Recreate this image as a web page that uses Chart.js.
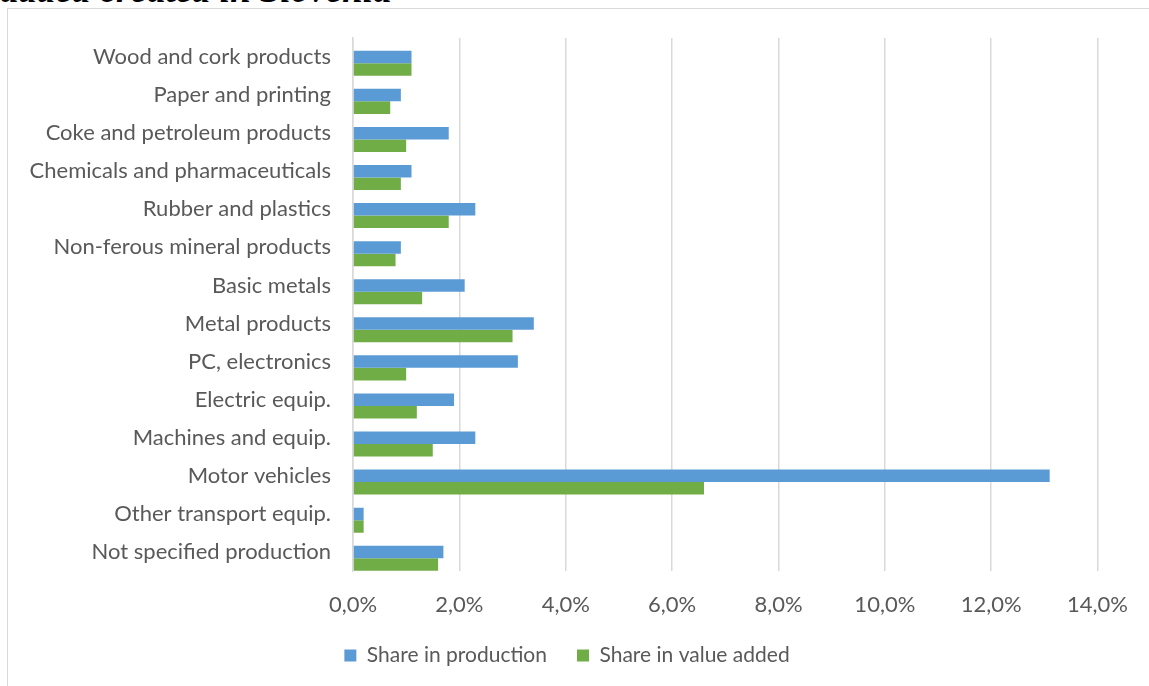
<!DOCTYPE html>
<html>
<head>
<meta charset="utf-8">
<script src="https://cdn.jsdelivr.net/npm/chart.js@4/dist/chart.umd.min.js"></script>
<style>
  html, body { margin: 0; padding: 0; background: #fff; overflow: hidden; }
  body { width: 1149px; height: 686px; position: relative; }
  #title { position: absolute; left: 0; top: -30px; font-family: "Liberation Serif", serif; font-weight: bold; font-style: italic; font-size: 37px; line-height: 1.107; color: #000; white-space: nowrap; }
  #frame { position: absolute; left: 7px; top: 8px; width: 1160px; height: 700px; border: 1.5px solid #d9d9d9; box-sizing: border-box; }
  #wrap { position: absolute; left: 0; top: 0; width: 1149px; height: 686px; }
</style>
</head>
<body>
<div id="title">added created in Slovenia</div>
<div id="frame"></div>
<div id="wrap"><canvas id="c" width="1149" height="686"></canvas></div>
<script>
const categories = [
  "Wood and cork products",
  "Paper and printing",
  "Coke and petroleum products",
  "Chemicals and pharmaceuticals",
  "Rubber and plastics",
  "Non-ferous mineral products",
  "Basic metals",
  "Metal products",
  "PC, electronics",
  "Electric equip.",
  "Machines and equip.",
  "Motor vehicles",
  "Other transport equip.",
  "Not specified production"
];
const shareProduction = [1.1, 0.9, 1.8, 1.1, 2.3, 0.9, 2.1, 3.4, 3.1, 1.9, 2.3, 13.1, 0.2, 1.7];
const shareValueAdded = [1.1, 0.7, 1.0, 0.9, 1.8, 0.8, 1.3, 3.0, 1.0, 1.2, 1.5, 6.6, 0.2, 1.6];
const xTicks = [0, 2, 4, 6, 8, 10, 12, 14];
const seriesNames = ["Share in production", "Share in value added"];

const FONT = "Lato, 'Open Sans', sans-serif";
const TXT = "#595959";

const legendShift = {
  id: "legendShift",
  afterLayout(chart) {
    const lg = chart.legend;
    if (lg) { lg.left += 18; lg.right += 18; }
  }
};

new Chart(document.getElementById("c"), {
  type: "bar",
  data: {
    labels: categories,
    datasets: [
      { label: "_spacer", data: categories.map(() => null), backgroundColor: "rgba(0,0,0,0)" },
      { label: seriesNames[0], data: shareProduction, backgroundColor: "#5B9BD5" },
      { label: seriesNames[1], data: shareValueAdded, backgroundColor: "#70AD47" }
    ]
  },
  plugins: [legendShift],
  options: {
    indexAxis: "y",
    responsive: false,
    animation: false,
    datasets: { bar: { categoryPercentage: 37.5/38, barPercentage: 1 } },
    layout: { padding: { top: 38, left: 0, right: 51, bottom: 10 } },
    plugins: {
      tooltip: { enabled: false },
      legend: {
        position: "bottom",
        labels: {
          filter: (item) => item.text !== "_spacer",
          boxWidth: 12, boxHeight: 12,
          color: TXT,
          font: { family: FONT, size: 21 },
          padding: 30
        }
      }
    },
    scales: {
      x: {
        type: "linear",
        min: 0, max: 14,
        afterBuildTicks: (s) => { s.ticks = xTicks.map(v => ({ value: v })); },
        afterFit: (s) => { s.height = 44; },
        grid: { color: "#d9d9d9", lineWidth: 1.5, drawTicks: false },
        border: { display: false },
        ticks: {
          color: TXT,
          font: { family: FONT, size: 22 },
          padding: 21,
          callback: (v) => v.toFixed(1).replace(".", ",") + "%"
        }
      },
      y: {
        afterFit: (s) => { s.width = 353; },
        grid: { display: false, drawTicks: false },
        border: { display: true, color: "#d9d9d9", width: 1.5 },
        ticks: {
          color: TXT,
          font: { family: FONT, size: 22 },
          padding: 22,
          autoSkip: false
        }
      }
    }
  }
});
</script>
</body>
</html>
